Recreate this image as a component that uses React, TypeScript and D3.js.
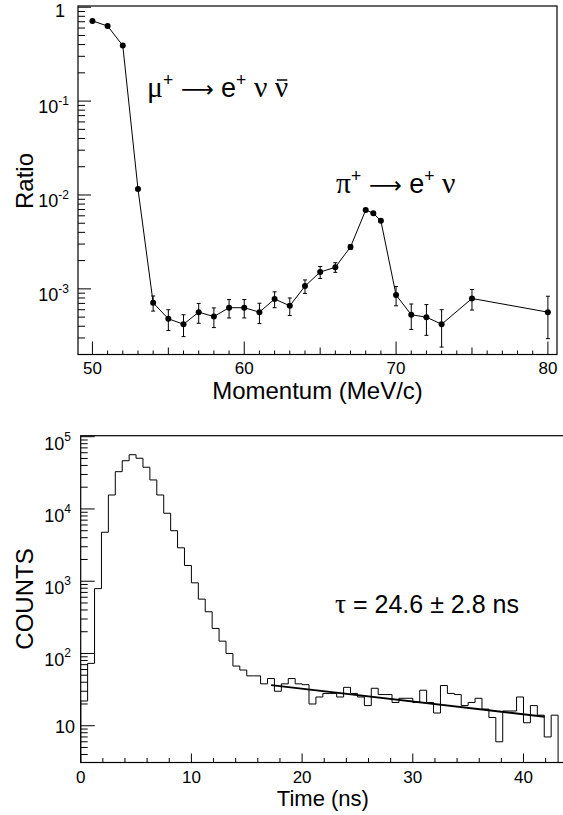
import React, { useEffect, useRef } from 'react'
import * as d3 from 'd3'

// top panel: e+/mu+ ratio vs momentum
const momentum = [50, 51, 52, 53, 54, 55, 56, 57, 58, 59, 60, 61, 62, 63, 64, 65, 66, 67, 68, 68.5, 69, 70, 71, 72, 73, 75, 80]
const ratio = [
  0.715, 0.63, 0.39, 0.0116, 7.1e-4, 4.8e-4, 4.2e-4, 5.65e-4, 5.07e-4, 6.3e-4, 6.3e-4, 5.65e-4, 7.8e-4, 6.6e-4,
  1.07e-3, 1.51e-3, 1.7e-3, 2.8e-3, 6.9e-3, 6.4e-3, 5.3e-3, 8.6e-4, 5.3e-4, 5.0e-4, 4.2e-4, 7.9e-4, 5.65e-4,
]
const ratioErr = [
  0.01, 0.01, 0.01, 3e-4, 1.3e-4, 1.2e-4, 1.1e-4, 1.35e-4, 1.2e-4, 1.4e-4, 1.4e-4, 1.38e-4, 1.5e-4, 1.4e-4,
  1.75e-4, 2.2e-4, 2.0e-4, 1.7e-4, 1.5e-4, 1.5e-4, 1.5e-4, 2.0e-4, 1.6e-4, 1.8e-4, 1.8e-4, 1.95e-4, 2.7e-4,
]
const momentumTicks = [50, 60, 70, 80]
const ratioTicks = [1, 1e-1, 1e-2, 1e-3]
const ratioTickLabels = [['1', ''], ['10', '-1'], ['10', '-2'], ['10', '-3']]

// bottom panel: time spectrum, 0.625 ns bins
const binWidth = 0.625
const counts = [
  22, 73, 790, 4760, 15600, 32800, 46500, 56300, 50300, 37800,
  25200, 15600, 8720, 5000, 2900, 1650, 950, 565, 378, 222,
  148, 100, 67, 59, 49, 49, 38, 45, 30, 38,
  45, 38, 37, 20, 25, 28, 28, 25, 34, 28,
  25, 19, 33, 27, 27, 21, 24, 24, 21, 31,
  21, 15, 36, 28, 27, 19, 21, 24, 17, 13,
  6, 16, 16, 25, 11, 19, 14, 7, 14, 0,
]
const fitTau = 24.6
const fitAmp = 73.4
const fitRange = [17.2, 41.9]
const timeTicks = [0, 10, 20, 30, 40]
const countTicks = [10, 1e2, 1e3, 1e4, 1e5]
const countTickLabels = [['10', ''], ['10', '2'], ['10', '3'], ['10', '4'], ['10', '5']]

const font = 'Liberation Sans, Arial, Helvetica, sans-serif'
const greek = 'Liberation Serif, Times New Roman, serif'
const arrowFont = 'DejaVu Sans, sans-serif'

const logMinors = (lo: number, hi: number) => {
  const out: number[] = []
  for (let e = Math.floor(Math.log10(lo)); e <= Math.ceil(Math.log10(hi)); e++) {
    for (let m = 2; m <= 9; m++) {
      const v = m * Math.pow(10, e)
      if (v >= lo && v <= hi) out.push(v)
    }
  }
  return out
}

// pieces: [text, kind] with kind 'n' normal, 'g' greek, 's' superscript, 'a' arrow
const latex = (g: any, x: number, y: number, size: number, pieces: [string, string][]) => {
  const t = g.append('text').attr('x', x).attr('y', y)
    .style('font-family', font).style('font-size', `${size}px`)
  let raised = false
  pieces.forEach(([s, k]) => {
    const sp = t.append('tspan').text(s)
    if (k === 's') {
      sp.attr('dy', -size * 0.42).style('font-size', `${size * 0.65}px`)
      raised = true
    } else if (raised) {
      sp.attr('dy', size * 0.42)
      raised = false
    }
    if (k === 'g') sp.style('font-family', greek).style('font-size', `${size * 1.1}px`)
    if (k === 'a') sp.style('font-family', arrowFont).style('font-size', `${size * 0.85}px`)
  })
  return t
}

const App = () => {
  const ref = useRef<SVGSVGElement>(null)

  useEffect(() => {
    const svg = d3.select(ref.current)
    svg.selectAll('*').remove()

    // ---------- top panel ----------
    const x1 = d3.scaleLinear().domain([49.05, 80.6]).range([78, 557])
    const y1 = d3.scaleLog().domain([2e-4, 1.03]).range([354.5, 6])
    const top = svg.append('g')

    top.append('rect')
      .attr('x', 78).attr('y', 6).attr('width', 557 - 78).attr('height', 354.5 - 6)
      .attr('fill', 'none').attr('stroke', 'black').attr('stroke-width', 1.2)

    d3.range(50, 81, 1).forEach((v) => {
      const len = v % 10 === 0 ? 13 : v % 5 === 0 ? 7 : 4
      top.append('line')
        .attr('x1', x1(v)).attr('x2', x1(v)).attr('y1', 354.5).attr('y2', 354.5 - len)
        .attr('stroke', 'black')
    })
    momentumTicks.forEach((v) => {
      top.append('text')
        .attr('x', x1(v)).attr('y', 374).attr('text-anchor', 'middle')
        .style('font-family', font).style('font-size', '17px').text(v)
    })

    ratioTicks.forEach((v) => {
      top.append('line')
        .attr('x1', 78).attr('x2', 91).attr('y1', y1(v)).attr('y2', y1(v)).attr('stroke', 'black')
    })
    logMinors(2e-4, 1).forEach((v) => {
      top.append('line')
        .attr('x1', 78).attr('x2', 85).attr('y1', y1(v)).attr('y2', y1(v)).attr('stroke', 'black')
    })
    ratioTicks.forEach((v, i) => {
      const [base, sup] = ratioTickLabels[i]
      const t = top.append('text')
        .attr('x', sup ? 69 : 65).attr('y', y1(v) + (sup ? 12 : 10)).attr('text-anchor', 'end')
        .style('font-family', font).style('font-size', '18px').text(base)
      if (sup) t.append('tspan').attr('dy', -8).style('font-size', '12px').text(sup)
    })

    top.append('text')
      .attr('transform', 'translate(33,181) rotate(-90)').attr('text-anchor', 'middle')
      .style('font-family', font).style('font-size', '24px').text('Ratio')
    top.append('text')
      .attr('x', 317.5).attr('y', 399).attr('text-anchor', 'middle')
      .style('font-family', font).style('font-size', '24px').text('Momentum (MeV/c)')

    const line1 = d3.line<number>().x((d, i) => x1(momentum[i])).y((d) => y1(d))
    top.append('path').attr('d', line1(ratio)).attr('fill', 'none').attr('stroke', 'black')

    ratio.forEach((r, i) => {
      const cx = x1(momentum[i])
      const ylo = y1(r - ratioErr[i])
      const yhi = y1(r + ratioErr[i])
      top.append('line').attr('x1', cx).attr('x2', cx).attr('y1', ylo).attr('y2', yhi).attr('stroke', 'black')
      top.append('line').attr('x1', cx - 2).attr('x2', cx + 2).attr('y1', ylo).attr('y2', ylo).attr('stroke', 'black')
      top.append('line').attr('x1', cx - 2).attr('x2', cx + 2).attr('y1', yhi).attr('y2', yhi).attr('stroke', 'black')
      top.append('circle').attr('cx', cx).attr('cy', y1(r)).attr('r', 3).attr('fill', 'black')
    })

    const mu = latex(top, 147, 97, 27, [
      ['\u03bc', 'g'], ['+', 's'], [' ', 'n'], ['\u27f6', 'a'], [' e', 'n'], ['+', 's'],
      [' ', 'n'], ['\u03bd', 'g'], [' ', 'n'], ['\u03bd', 'g'],
    ])
    const muNode = mu.node() as SVGTextElement
    const last = muNode.getExtentOfChar(muNode.getNumberOfChars() - 1)
    top.append('line')
      .attr('x1', last.x + 2).attr('x2', last.x + last.width - 1)
      .attr('y1', 80).attr('y2', 80).attr('stroke', 'black').attr('stroke-width', 1.5)

    latex(top, 336, 193, 27, [
      ['\u03c0', 'g'], ['+', 's'], [' ', 'n'], ['\u27f6', 'a'], [' e', 'n'], ['+', 's'],
      [' ', 'n'], ['\u03bd', 'g'],
    ])

    // ---------- bottom panel ----------
    const x2 = d3.scaleLinear().domain([0, 43.75]).range([80.7, 565])
    const y2 = d3.scaleLog().domain([3.1, 1.032e5]).range([762.5, 435.7]).clamp(true)
    const bot = svg.append('g')

    bot.append('rect')
      .attr('x', 80.7).attr('y', 435.7).attr('width', 565 - 80.7).attr('height', 762.5 - 435.7)
      .attr('fill', 'none').attr('stroke', 'black').attr('stroke-width', 1.2)

    d3.range(0, 44, 2).forEach((v) => {
      const len = v % 10 === 0 ? 9 : 4.5
      bot.append('line')
        .attr('x1', x2(v)).attr('x2', x2(v)).attr('y1', 762.5).attr('y2', 762.5 - len).attr('stroke', 'black')
    })
    timeTicks.forEach((v) => {
      bot.append('text')
        .attr('x', x2(v)).attr('y', 783).attr('text-anchor', 'middle')
        .style('font-family', font).style('font-size', '17px').text(v)
    })

    countTicks.forEach((v) => {
      bot.append('line')
        .attr('x1', 80.7).attr('x2', 94.7).attr('y1', y2(v)).attr('y2', y2(v)).attr('stroke', 'black')
    })
    logMinors(3.1, 1e5).forEach((v) => {
      bot.append('line')
        .attr('x1', 80.7).attr('x2', 87.7).attr('y1', y2(v)).attr('y2', y2(v)).attr('stroke', 'black')
    })
    countTicks.forEach((v, i) => {
      const [base, sup] = countTickLabels[i]
      const t = bot.append('text')
        .attr('x', sup ? 71 : 75).attr('y', y2(v) + (sup ? 13 : 7)).attr('text-anchor', 'end')
        .style('font-family', font).style('font-size', '18px').text(base)
      if (sup) t.append('tspan').attr('dy', -9).style('font-size', '12px').text(sup)
    })

    bot.append('text')
      .attr('transform', 'translate(33,599) rotate(-90)').attr('text-anchor', 'middle')
      .style('font-family', font).style('font-size', '24px').text('COUNTS')
    bot.append('text')
      .attr('x', 322.9).attr('y', 806).attr('text-anchor', 'middle')
      .style('font-family', font).style('font-size', '22px').text('Time (ns)')

    const pts: [number, number][] = [[x2(0), 762.5]]
    counts.forEach((c, i) => {
      const yy = c > 0 ? y2(c) : 762.5
      pts.push([x2(i * binWidth), yy])
      pts.push([x2((i + 1) * binWidth), yy])
    })
    pts.push([x2(counts.length * binWidth), 762.5])
    bot.append('path').attr('d', d3.line()(pts)).attr('fill', 'none').attr('stroke', 'black')

    const fitPts: [number, number][] = fitRange.map((t) => [x2(t), y2(fitAmp * Math.exp(-t / fitTau))])
    bot.append('path').attr('d', d3.line()(fitPts)).attr('fill', 'none').attr('stroke', 'black').attr('stroke-width', 2)

    latex(bot, 335, 613, 25, [
      ['\u03c4', 'g'], [' = 24.6 ', 'n'], ['\u00b1', 'n'], [' 2.8 ns', 'n'],
    ])
  }, [])

  return <svg ref={ref} width={563} height={815} style={{ position: 'absolute', left: 0, top: 0, background: 'white' }} />
}

export default App
